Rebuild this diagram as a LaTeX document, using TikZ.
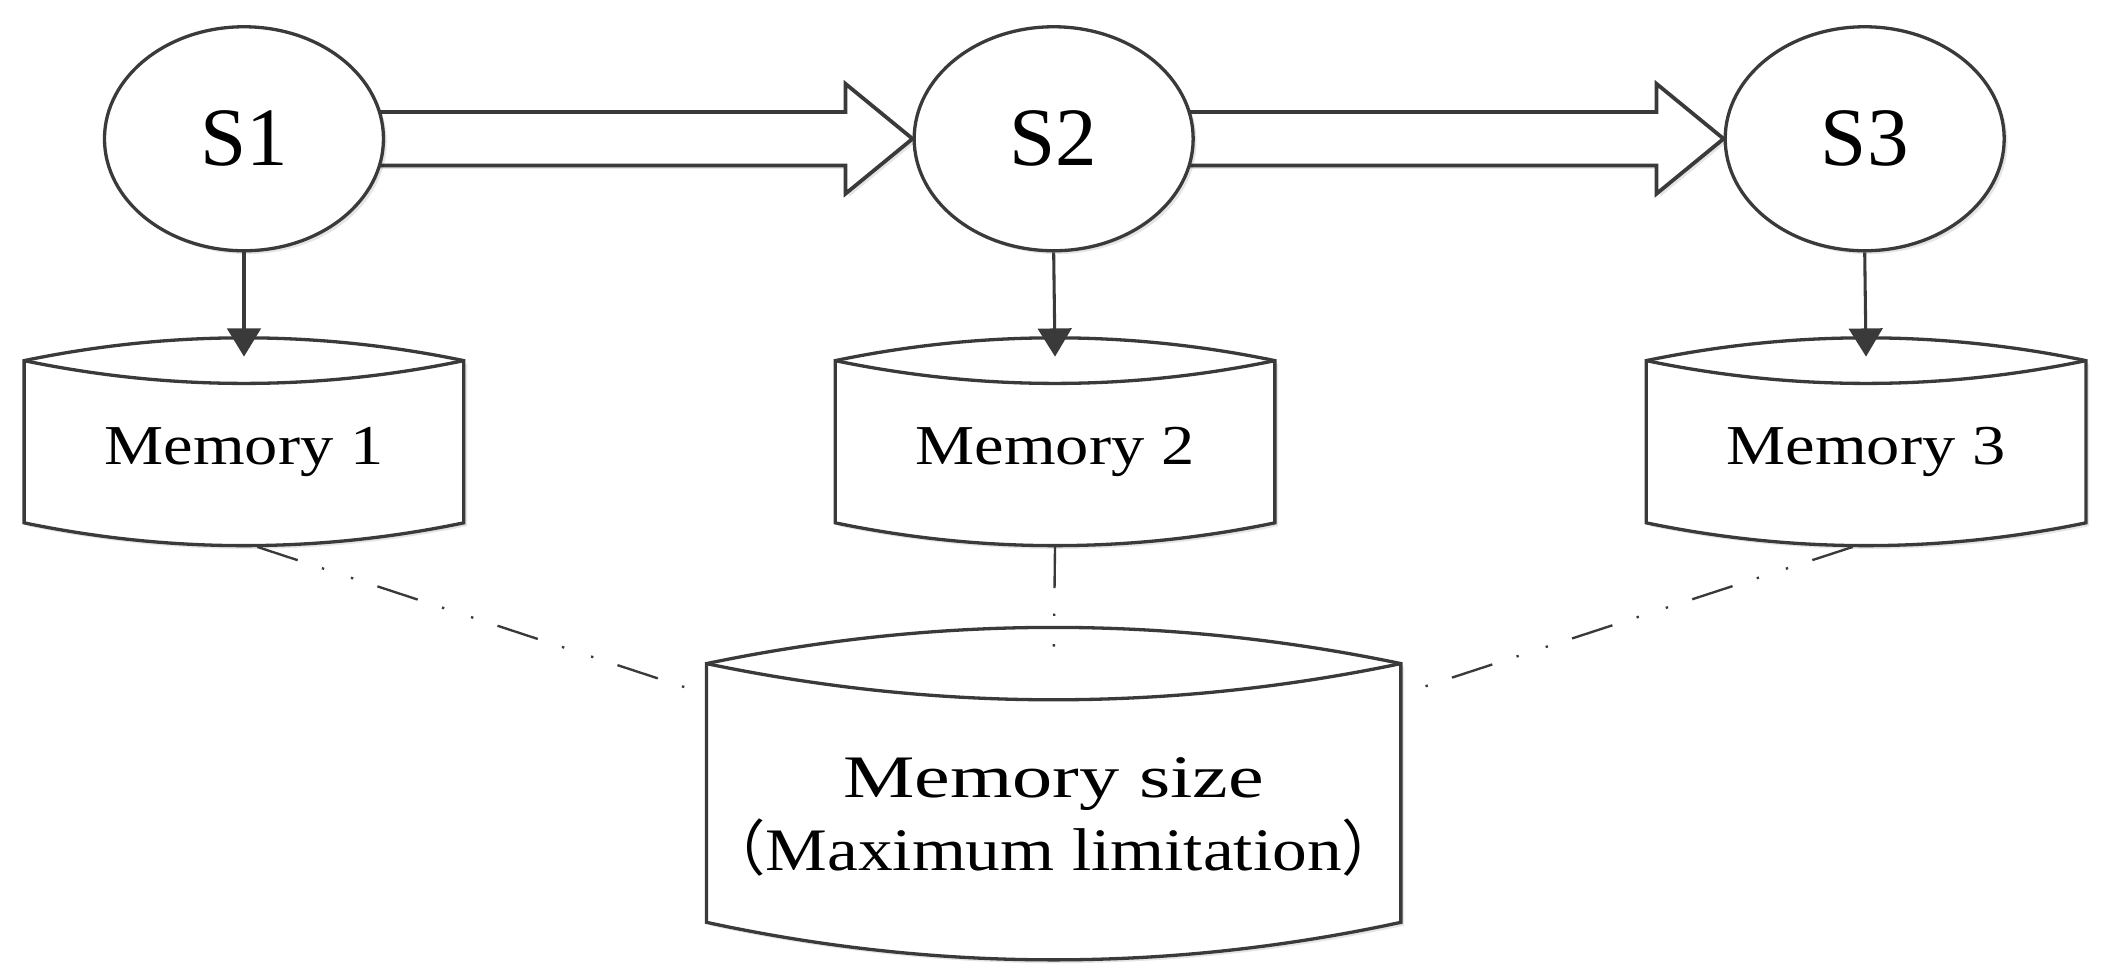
\documentclass[tikz,border=0pt]{standalone}
\usepackage{fontspec}
\setmainfont{Liberation Serif}
\newfontfamily\memfont[FakeStretch=1.18]{Liberation Serif}
\newfontfamily\memwidefont[FakeStretch=1.33]{Liberation Serif}
\newfontfamily\memlimfont[FakeStretch=1.15]{Liberation Serif}
\newfontfamily\cjk{Noto Sans CJK SC}
\usetikzlibrary{shapes.geometric,calc,arrows.meta,shadows}
\pgfdeclarelayer{bg}
\pgfsetlayers{bg,main}
\definecolor{ln}{HTML}{3A3A3A}
% #1 node, #2 half width, #3 corner y, #4 lens sag, #5 bottom corner y, #6 bottom sag
\newcommand{\drawcyl}[6]{%
  \draw[outline,soft,shift={(#1.center)}]
    (-#2,#3) .. controls (-#2/3,#3-4*#4/3) and (#2/3,#3-4*#4/3) .. (#2,#3)
    -- (#2,#5) .. controls (#2/3,#5+4*#6/3) and (-#2/3,#5+4*#6/3) .. (-#2,#5) -- cycle;
  \draw[outline,fill=none,shift={(#1.center)}]
    (-#2,#3) .. controls (-#2/3,#3+4*#4/3) and (#2/3,#3+4*#4/3) .. (#2,#3);
}
\begin{document}
\begin{tikzpicture}[x=0.01cm,y=-0.01cm,
  soft/.style={drop shadow={shadow xshift=0.7pt, shadow yshift=-0.7pt, fill=black, opacity=0.10}},
  state/.style={ellipse, draw=ln, line width=0.7pt, fill=white, minimum width=2.08cm,
    minimum height=1.67cm, inner sep=0pt, font=\fontsize{17.6}{20}\selectfont, soft},
  memtext/.style={inner sep=0pt, font=\memfont\fontsize{11.95}{14}\selectfont},
  bigtext/.style={inner sep=0pt, align=center, font=\fontsize{12.8}{15.6}\selectfont},
  outline/.style={draw=ln, line width=0.7pt, fill=white, line join=miter},
  flow/.style={draw=ln, line width=0.8pt, fill=white, line join=miter},
  feed/.style={draw=ln, line width=0.65pt, -{Triangle[length=0.21cm,width=0.25cm]}},
  link/.style={draw=ln, line width=0.5pt,
    dash pattern=on 9pt off 5.4pt on 0.5pt off 6pt on 0.5pt off 5.4pt}
]
\useasboundingbox (0,0) rectangle (1568,729);

% states
\node[state] (S1) at (182,103.5) {S1};
\node[state] (S2) at (786,103.5) {S2};
\node[state] (S3) at (1391,103.5) {S3};

% memory texts
\node[memtext] (M1) at (182,337) {Memory 1};
\node[memtext] (M2) at (787,337) {Memory 2};
\node[memtext] (M3) at (1392,337) {Memory 3};
\node[bigtext] (MS) at (786,609.5) {{\memwidefont Memory size}\\{\cjk （}{\memlimfont Maximum limitation}{\cjk ）}};

\begin{pgfonlayer}{bg}
  % big flow arrows
  \path[flow,soft] ($(S1.center)+(0,-20)$) -- ($(S2.west)+(-50,-20)$) -- ($(S2.west)+(-50,-41)$)
    -- (S2.west) -- ($(S2.west)+(-50,41)$) -- ($(S2.west)+(-50,20)$) -- ($(S1.center)+(0,20)$);
  \path[flow,soft] ($(S2.center)+(0,-20)$) -- ($(S3.west)+(-50,-20)$) -- ($(S3.west)+(-50,-41)$)
    -- (S3.west) -- ($(S3.west)+(-50,41)$) -- ($(S3.west)+(-50,20)$) -- ($(S2.center)+(0,20)$);
  % cylinders
  \drawcyl{M1}{164}{-68}{17}{53}{17}
  \drawcyl{M2}{164}{-68}{17}{53}{17}
  \drawcyl{M3}{164}{-68}{17}{53}{17}
  \drawcyl{MS}{259}{-114.5}{27}{78.5}{28}
\end{pgfonlayer}

% anchor points
\coordinate (M1in) at ($(M1)+(0,-71)$);
\coordinate (M2in) at ($(M2)+(0,-71)$);
\coordinate (M3in) at ($(M3)+(0,-71)$);
\coordinate (M1out) at ($(M1)+(10,71)$);
\coordinate (M2out) at ($(M2)+(0,70)$);
\coordinate (M3out) at ($(M3)+(-10,71)$);
\coordinate (MSl) at ($(MS)+(-274,-96.5)$);
\coordinate (MSt) at ($(MS)+(0,-113)$);
\coordinate (MSr) at ($(MS)+(274,-96.5)$);

% store arrows
\draw[feed] (S1.south) -- (M1in);
\draw[feed] (S2.south) -- (M2in);
\draw[feed] (S3.south) -- (M3in);

% dash-dot links
\draw[link] (M1out) -- (MSl);
\draw[link] (M2out) -- (MSt);
\draw[link] (M3out) -- (MSr);
\end{tikzpicture}
\end{document}
